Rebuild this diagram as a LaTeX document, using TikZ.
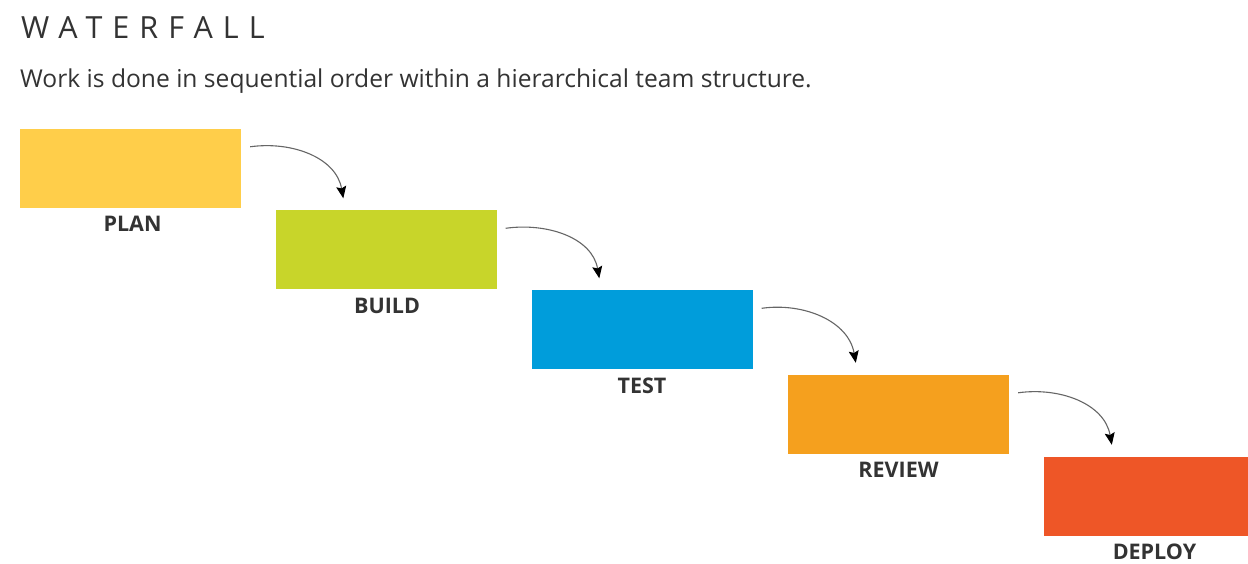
\documentclass[tikz,border=0pt]{standalone}
\usepackage{fontspec}
\setmainfont{Open Sans}
\newfontfamily\titlefont[LetterSpace=33]{Open Sans}
\usetikzlibrary{calc,arrows.meta}
\definecolor{cplan}{HTML}{FFCE4A}
\definecolor{cbuild}{HTML}{C8D52A}
\definecolor{ctest}{HTML}{009DDB}
\definecolor{creview}{HTML}{F5A01E}
\definecolor{cdeploy}{HTML}{EE5627}
\definecolor{ctext}{HTML}{333333}
\tikzset{
  phase/.style={rectangle, inner sep=0pt, minimum width=221pt, minimum height=79pt, draw=none},
  plabel/.style={font=\fontsize{21.5}{24}\selectfont\bfseries, text=ctext, anchor=north, inner sep=0pt},
  flow/.style={draw=black!60, line width=1.1pt, -{Stealth[length=12pt,width=10pt,inset=2pt,color=black]}}
}
\begin{document}
\begin{tikzpicture}[x=1pt,y=1pt]
\useasboundingbox[fill=white] (0,0) rectangle (1248,564);
\node[anchor=base west, inner sep=0pt, text=ctext, font=\titlefont\fontsize{30.5}{34}\selectfont] (title) at (21,525) {WATERFALL};
\node[anchor=base west, inner sep=0pt, text=ctext, font=\fontsize{24.6}{28}\selectfont] (sub) at (20,476) {Work is done in sequential order within a hierarchical team structure.};
\node[phase, fill=cplan] (plan) at (130.5,395.5) {};
\node[phase, fill=cbuild] (build) at (386,314) {};
\node[phase, fill=ctest] (test) at (642,234) {};
\node[phase, fill=creview] (review) at (898.5,149.5) {};
\node[phase, fill=cdeploy] (deploy) at (1154.5,67.5) {};
\node[plabel] (lplan) at ($(plan.south)+(2,-8)$) {PLAN};
\node[plabel] (lbuild) at ($(build.south)+(1,-8)$) {BUILD};
\node[plabel] (ltest) at ($(test.south)+(0,-8)$) {TEST};
\node[plabel] (lreview) at ($(review.south)+(0,-8)$) {REVIEW};
\node[plabel] (ldeploy) at ($(deploy.south)+(0,-8)$) {DEPLOY};
\foreach \a/\b in {plan/build,build/test,test/review,review/deploy}{
  \draw[flow] ($(\a.north east)+(9,-18)$) to[out=8,in=100] ($(\b.north west)+(68,12)$);
}
\end{tikzpicture}
\end{document}
